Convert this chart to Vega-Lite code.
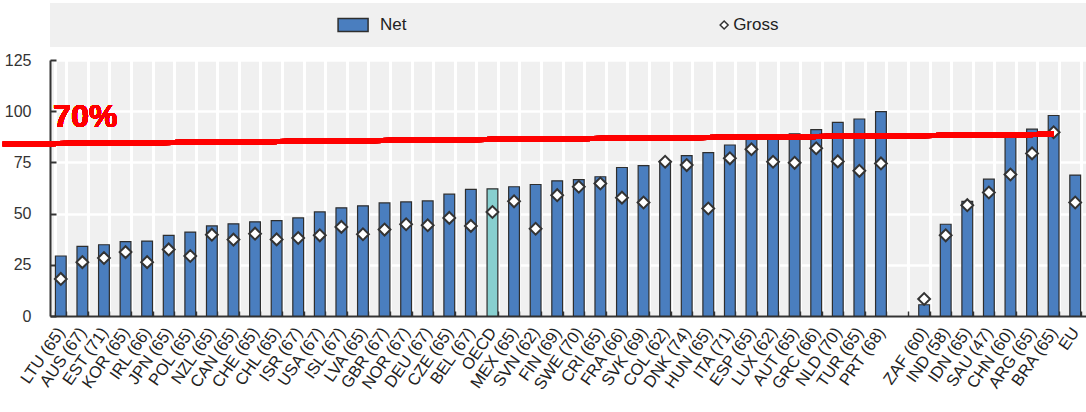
{
  "$schema": "https://vega.github.io/schema/vega-lite/v6.json",
  "padding": {"left": 0, "top": 3, "right": 0, "bottom": 0},
  "background": "white",
  "spacing": 13,
  "bounds": "flush",
  "config": {
    "view": {"stroke": null},
    "font": "Liberation Sans",
    "axis": {"labelFont": "Liberation Sans"}
  },
  "vconcat": [
    {
      "width": 1036,
      "height": 44,
      "view": {"fill": "#f0f0f0", "stroke": null},
      "data": {"values": [{"item": "Net"}, {"item": "Gross"}]},
      "encoding": {
        "x": {
          "field": "item",
          "type": "nominal",
          "sort": null,
          "scale": {"type": "band", "domain": ["Net", "Gross"], "paddingInner": 0, "paddingOuter": 0.396, "align": 0.4},
          "axis": null
        }
      },
      "layer": [
        {
          "transform": [{"filter": "datum.item === 'Net'"}],
          "mark": {"type": "point", "shape": "M-1,-0.43H1V0.43H-1Z", "size": 900, "filled": true, "fill": "#4a7ebf", "stroke": "#2e2e2e", "strokeWidth": 1.5, "opacity": 1}
        },
        {
          "transform": [{"filter": "datum.item === 'Gross'"}],
          "mark": {"type": "point", "shape": "diamond", "size": 64, "filled": true, "fill": "white", "stroke": "#333333", "strokeWidth": 1.5, "opacity": 1}
        },
        {
          "transform": [{"filter": "datum.item === 'Net'"}],
          "mark": {"type": "text", "align": "left", "baseline": "middle", "dx": 27, "fontSize": 17, "color": "#222222"},
          "encoding": {"text": {"field": "item"}}
        },
        {
          "transform": [{"filter": "datum.item === 'Gross'"}],
          "mark": {"type": "text", "align": "left", "baseline": "middle", "dx": 9, "fontSize": 17, "color": "#222222"},
          "encoding": {"text": {"field": "item"}}
        }
      ]
    },
    {
      "width": 1036,
      "height": 256,
      "view": {"fill": "#f0f0f0", "stroke": null},
      "data": {"values": [
        {"c": "LTU (65)", "net": 29.3, "gross": 18.1},
        {"c": "AUS (67)", "net": 34.0, "gross": 26.3},
        {"c": "EST (71)", "net": 34.8, "gross": 28.3},
        {"c": "KOR (65)", "net": 36.3, "gross": 31.2},
        {"c": "IRL (66)", "net": 36.6, "gross": 26.3},
        {"c": "JPN (65)", "net": 39.4, "gross": 32.5},
        {"c": "POL (65)", "net": 41.0, "gross": 29.3},
        {"c": "NZL (65)", "net": 44.0, "gross": 39.7},
        {"c": "CAN (65)", "net": 45.0, "gross": 37.3},
        {"c": "CHE (65)", "net": 46.0, "gross": 40.2},
        {"c": "CHL (65)", "net": 46.6, "gross": 37.4},
        {"c": "ISR (67)", "net": 47.9, "gross": 38.1},
        {"c": "USA (67)", "net": 50.8, "gross": 39.4},
        {"c": "ISL (67)", "net": 52.8, "gross": 43.5},
        {"c": "LVA (65)", "net": 53.8, "gross": 39.9},
        {"c": "GBR (67)", "net": 55.2, "gross": 42.2},
        {"c": "NOR (67)", "net": 55.7, "gross": 44.8},
        {"c": "DEU (67)", "net": 56.2, "gross": 44.3},
        {"c": "CZE (65)", "net": 59.5, "gross": 47.9},
        {"c": "BEL (67)", "net": 61.8, "gross": 44.0},
        {"c": "OECD", "net": 62.1, "gross": 50.8},
        {"c": "MEX (65)", "net": 63.1, "gross": 56.0},
        {"c": "SVN (62)", "net": 64.2, "gross": 42.6},
        {"c": "FIN (69)", "net": 66.0, "gross": 59.0},
        {"c": "SWE (70)", "net": 66.6, "gross": 63.1},
        {"c": "CRI (65)", "net": 68.0, "gross": 64.7},
        {"c": "FRA (66)", "net": 72.5, "gross": 57.8},
        {"c": "SVK (69)", "net": 73.4, "gross": 55.4},
        {"c": "COL (62)", "net": 75.8, "gross": 75.3},
        {"c": "DNK (74)", "net": 78.3, "gross": 73.7},
        {"c": "HUN (65)", "net": 79.8, "gross": 52.5},
        {"c": "ITA (71)", "net": 83.5, "gross": 77.0},
        {"c": "ESP (65)", "net": 86.3, "gross": 81.4},
        {"c": "LUX (62)", "net": 88.0, "gross": 75.3},
        {"c": "AUT (65)", "net": 89.0, "gross": 74.8},
        {"c": "GRC (66)", "net": 91.0, "gross": 81.9},
        {"c": "NLD (70)", "net": 94.5, "gross": 75.5},
        {"c": "TUR (65)", "net": 96.2, "gross": 70.9},
        {"c": "PRT (68)", "net": 99.8, "gross": 74.5},
        {"c": " ", "net": null, "gross": null},
        {"c": "ZAF (60)", "net": 5.5, "gross": 8.3},
        {"c": "IND (58)", "net": 44.8, "gross": 39.4},
        {"c": "IDN (65)", "net": 56.0, "gross": 54.1},
        {"c": "SAU (47)", "net": 66.8, "gross": 60.3},
        {"c": "CHN (60)", "net": 88.0, "gross": 69.1},
        {"c": "ARG (65)", "net": 91.2, "gross": 79.4},
        {"c": "BRA (65)", "net": 97.9, "gross": 89.7},
        {"c": "EU", "net": 68.8, "gross": 55.4}
      ]},
      "encoding": {
        "x": {
          "field": "c",
          "type": "nominal",
          "sort": null,
          "scale": {
            "type": "band",
            "domain": ["LTU (65)", "AUS (67)", "EST (71)", "KOR (65)", "IRL (66)", "JPN (65)", "POL (65)", "NZL (65)", "CAN (65)", "CHE (65)", "CHL (65)", "ISR (67)", "USA (67)", "ISL (67)", "LVA (65)", "GBR (67)", "NOR (67)", "DEU (67)", "CZE (65)", "BEL (67)", "OECD", "MEX (65)", "SVN (62)", "FIN (69)", "SWE (70)", "CRI (65)", "FRA (66)", "SVK (69)", "COL (62)", "DNK (74)", "HUN (65)", "ITA (71)", "ESP (65)", "LUX (62)", "AUT (65)", "GRC (66)", "NLD (70)", "TUR (65)", "PRT (68)", " ", "ZAF (60)", "IND (58)", "IDN (65)", "SAU (47)", "CHN (60)", "ARG (65)", "BRA (65)", "EU"],
            "paddingInner": 0.5,
            "paddingOuter": 0.25
          },
          "axis": {
            "title": null,
            "tickBand": "extent",
            "grid": true,
            "gridColor": "white",
            "gridWidth": 3,
            "domainColor": "#333333",
            "domainWidth": 2,
            "tickColor": "#333333",
            "tickWidth": 1.5,
            "tickSize": -5,
            "labelAngle": -55,
            "labelAlign": "right",
            "labelBaseline": "middle",
            "labelPadding": 18,
            "labelFontSize": 16.5,
            "labelColor": "#222222",
            "labelOverlap": false,
            "labelBound": false,
            "labelLimit": 0
          }
        }
      },
      "layer": [
        {
          "mark": {"type": "bar", "stroke": "#2e2e2e", "strokeWidth": 1.2},
          "encoding": {
            "y": {
              "field": "net",
              "type": "quantitative",
              "scale": {"domain": [0, 125], "nice": false},
              "axis": {
                "title": null,
                "values": [0, 25, 50, 75, 100, 125],
                "grid": true,
                "gridColor": "white",
                "gridWidth": 2.5,
                "domainColor": "#333333",
                "domainWidth": 2,
                "tickColor": "#333333",
                "tickWidth": 2,
                "tickSize": -6,
                "labelPadding": 25,
                "labelFontSize": 16,
                "labelColor": "#333333"
              }
            },
            "color": {
              "condition": {"test": "datum.c === 'OECD'", "value": "#88d0d0"},
              "value": "#4a7ebf"
            }
          }
        },
        {
          "mark": {"type": "point", "shape": "diamond", "size": 140, "filled": true, "fill": "white", "stroke": "#333333", "strokeWidth": 2, "opacity": 1},
          "encoding": {
            "y": {"field": "gross", "type": "quantitative"}
          }
        },
        {
          "mark": {"type": "rule", "color": "#ff0000", "strokeWidth": 5},
          "encoding": {
            "x": {"datum": "LTU (65)", "bandPosition": -4.86},
            "x2": {"datum": "BRA (65)"},
            "y": {"datum": 84.0},
            "y2": {"datum": 88.7}
          }
        },
        {
          "mark": {"type": "text", "text": "70%", "align": "left", "baseline": "alphabetic", "fontSize": 32, "fontWeight": "bold", "color": "#ff0000"},
          "encoding": {
            "x": {"datum": "LTU (65)", "bandPosition": -0.19},
            "y": {"datum": 92.2}
          }
        }
      ]
    }
  ]
}
